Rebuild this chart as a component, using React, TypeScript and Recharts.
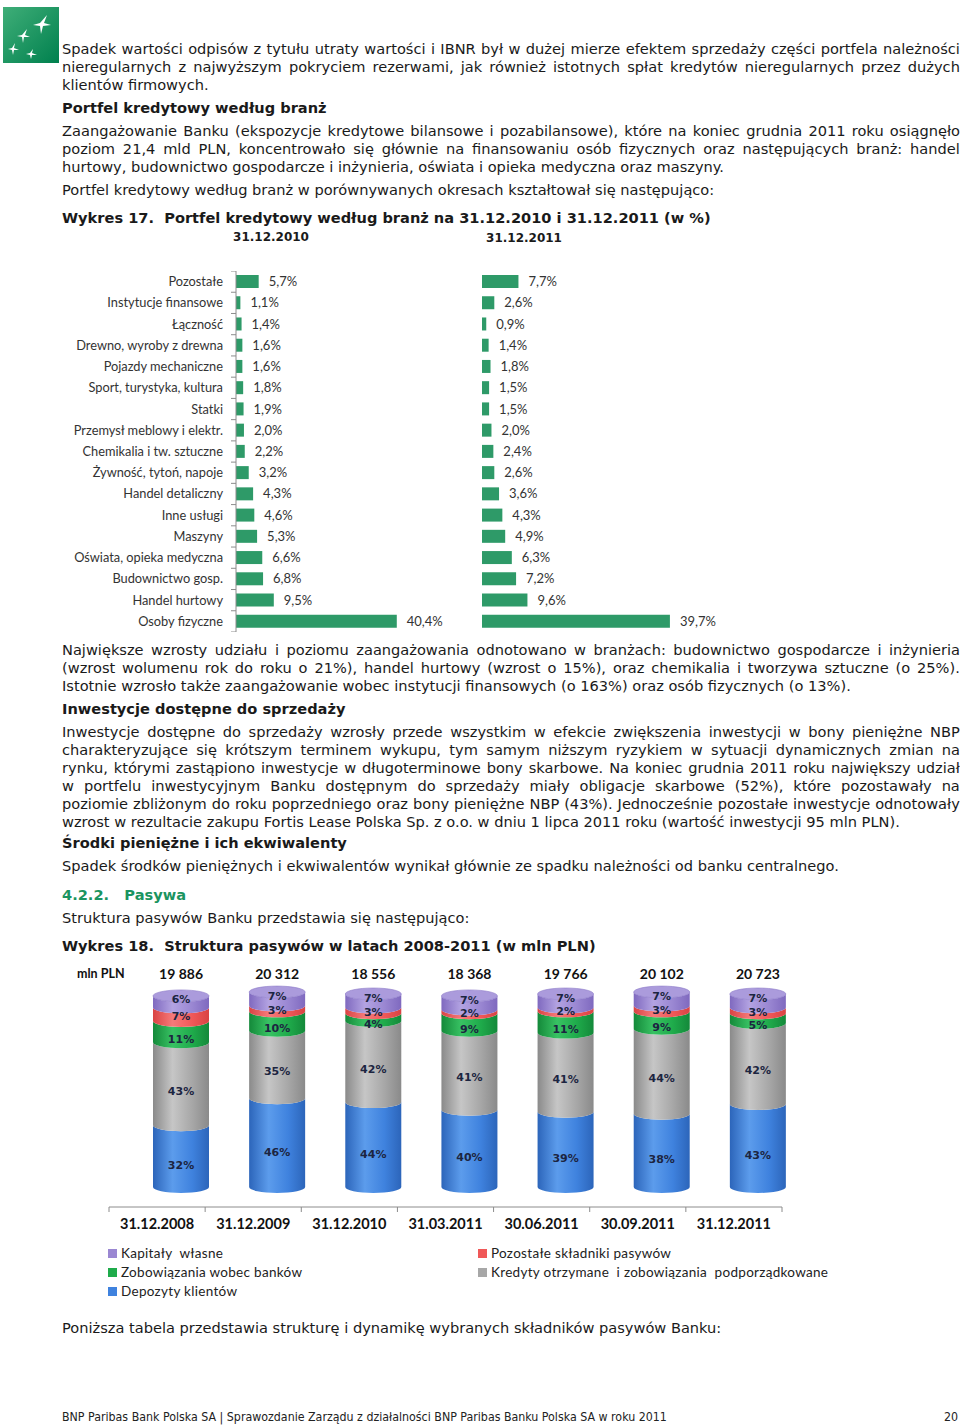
import React from "react";
import { Bar, BarChart, LabelList, XAxis, YAxis } from "recharts";

// Wykres 17 - portfel kredytowy wg branż (%)
const branze = [
  "Pozostałe",
  "Instytucje finansowe",
  "Łączność",
  "Drewno, wyroby z drewna",
  "Pojazdy mechaniczne",
  "Sport, turystyka,  kultura",
  "Statki",
  "Przemysł meblowy i elektr.",
  "Chemikalia i tw. sztuczne",
  "Żywność, tytoń,  napoje",
  "Handel detaliczny",
  "Inne usługi",
  "Maszyny",
  "Oświata, opieka medyczna",
  "Budownictwo gosp.",
  "Handel hurtowy",
  "Osoby fizyczne",
];
const udzial2010 = [5.7, 1.1, 1.4, 1.6, 1.6, 1.8, 1.9, 2.0, 2.2, 3.2, 4.3, 4.6, 5.3, 6.6, 6.8, 9.5, 40.4];
const udzial2011 = [7.7, 2.6, 0.9, 1.4, 1.8, 1.5, 1.5, 2.0, 2.4, 2.6, 3.6, 4.3, 4.9, 6.3, 7.2, 9.6, 39.7];

// Wykres 18 - struktura pasywów
const okresy = ["31.12.2008", "31.12.2009", "31.12.2010", "31.03.2011", "30.06.2011", "30.09.2011", "31.12.2011"];
const sumy = ["19 886", "20 312", "18 556", "18 368", "19 766", "20 102", "20 723"];
const depozyty = [32, 46, 44, 40, 39, 38, 43];
const kredyty = [43, 35, 42, 41, 41, 44, 42];
const zobowiazania = [11, 10, 4, 9, 11, 9, 5];
const pozostale = [7, 3, 3, 2, 2, 3, 3];
const kapitaly = [6, 7, 7, 7, 7, 7, 7];

const data17 = branze.map((name, i) => ({ name, v2010: udzial2010[i], v2011: udzial2011[i] }));
const data18 = okresy.map((okres, i) => ({
  okres,
  suma: sumy[i],
  depozyty: depozyty[i],
  kredyty: kredyty[i],
  zobowiazania: zobowiazania[i],
  pozostale: pozostale[i],
  kapitaly: kapitaly[i],
}));

const TXT = "'DejaVu Sans', Verdana, sans-serif";
const CH = "Lato, 'Open Sans', sans-serif";
const INK = "#1a1a1a";
const FS = 14.6;

const H17 = 361;
const ROW17 = H17 / branze.length;
const AXIS17 = 176;
const W18 = 673;
const CAT18 = W18 / okresy.length;
const DX = 24; // cylindry przesunięte względem środka kategorii
const RY = 6;

const pct = (v: any) => Number(v).toFixed(1).replace(".", ",") + "%";

const BranchTick = (props: any) => {
  const { x, y, payload, index } = props;
  const half = ROW17 / 2;
  return (
    <g>
      <line x1={AXIS17 - 5} x2={AXIS17} y1={y - half} y2={y - half} stroke="#8c8c8c" />
      {index === branze.length - 1 && (
        <line x1={AXIS17 - 5} x2={AXIS17} y1={y + half} y2={y + half} stroke="#8c8c8c" />
      )}
      <text x={x} y={y} dy="0.35em" textAnchor="end" fontSize={12.8} fontFamily={CH} fill="#333">
        {payload.value}
      </text>
    </g>
  );
};

const DateTick = (props: any) => {
  const { x, y, payload, index } = props;
  return (
    <g>
      <line x1={x - CAT18 / 2} x2={x - CAT18 / 2} y1={y} y2={y + 5} stroke="#8c8c8c" />
      {index === okresy.length - 1 && (
        <line x1={x + CAT18 / 2} x2={x + CAT18 / 2} y1={y} y2={y + 5} stroke="#8c8c8c" />
      )}
      <text x={x} y={y + 22} textAnchor="middle" fontSize={14.5} fontWeight="bold" fontFamily={CH} fill="#111">
        {payload.value}
      </text>
    </g>
  );
};

const SumTick = (props: any) => {
  const { x, y, index } = props;
  return (
    <text x={x + DX} y={y - 2} textAnchor="middle" fontSize={14} fontWeight="bold" fontFamily={CH} fill="#111">
      {sumy[index]}
    </text>
  );
};

const Segment = (props: any) => {
  const { x, y, width, height, grad, cap } = props;
  if (!height || height <= 0) return null;
  const X = x + DX;
  const rx = width / 2;
  const d = `M${X},${y - RY} L${X},${y + height - RY} A${rx},${RY} 0 0 0 ${X + width},${y + height - RY} L${X + width},${y - RY} A${rx},${RY} 0 0 1 ${X},${y - RY} Z`;
  return (
    <g>
      <path d={d} fill={`url(#${grad})`} />
      {cap && <ellipse cx={X + rx} cy={y - RY} rx={rx} ry={RY} fill="#ab9bdc" stroke="#8b78c8" strokeWidth={0.6} />}
    </g>
  );
};

const segLabel = (shift: number) => (p: any) => {
  const vb = p.viewBox ?? p;
  if (!p.value || !vb) return null;
  return (
    <text
      x={vb.x + vb.width / 2 + DX}
      y={vb.y + vb.height / 2 + 4 + shift}
      textAnchor="middle"
      fontSize={11}
      fontWeight="bold"
      fontFamily={TXT}
      fill="#1c2541"
    >
      {p.value}%
    </text>
  );
};

const grads = [
  { id: "gBlue", dark: "#2c65ba", light: "#5c9cec", mid: "#3f82de" },
  { id: "gGray", dark: "#8a8a8a", light: "#c6c6c6", mid: "#a7a7a7" },
  { id: "gGreen", dark: "#14893a", light: "#38c263", mid: "#1fab4b" },
  { id: "gRed", dark: "#d94343", light: "#f67a7a", mid: "#f05858" },
  { id: "gPurple", dark: "#7f69bf", light: "#b3a3e2", mid: "#9a87d2" },
];

const legend = [
  { name: "Kapitały  własne", color: "#9a87d2", x: 108, y: 1253 },
  { name: "Pozostałe składniki pasywów", color: "#f05858", x: 478, y: 1253 },
  { name: "Zobowiązania wobec banków", color: "#1fab4b", x: 108, y: 1272 },
  { name: "Kredyty otrzymane  i zobowiązania  podporządkowane", color: "#a7a7a7", x: 478, y: 1272 },
  { name: "Depozyty klientów", color: "#3f82de", x: 108, y: 1291 },
];

const Line = ({ text, top, justify, bold, color }: any) => {
  const base: React.CSSProperties = {
    position: "absolute",
    left: 62,
    width: 898,
    top,
    height: 18,
    lineHeight: "18px",
    fontSize: FS,
    fontWeight: bold ? "bold" : "normal",
    color: color ?? INK,
    whiteSpace: "pre",
  };
  if (!justify) return <div style={base}>{text}</div>;
  return (
    <div style={{ ...base, display: "flex", justifyContent: "space-between" }}>
      {text.split(" ").map((w: string, i: number) => (
        <span key={i}>{w}</span>
      ))}
    </div>
  );
};

const Para = ({ top, lines }: { top: number; lines: string[] }) => (
  <>
    {lines.map((l, i) => (
      <Line key={i} text={l} top={top + i * 18} justify={i < lines.length - 1} />
    ))}
  </>
);

const Logo = () => (
  <svg width={56} height={56} style={{ position: "absolute", left: 3, top: 7 }}>
    <defs>
      <linearGradient id="logoG" x1="0" y1="0" x2="1" y2="1">
        <stop offset="0" stopColor="#3fae78" />
        <stop offset="1" stopColor="#00804e" />
      </linearGradient>
    </defs>
    <rect width={56} height={56} fill="url(#logoG)" />
    <polygon points="44,8 41,16 48,18 40,19 38,27 37,19 30,18 37,16" fill="#fff" />
    <polygon points="24,22 22,28 27,30 21,30 20,36 19,30 14,29 19,28" fill="#fff" />
    <polygon points="12,36 11,41 16,43 11,43 10,48 9,43 5,42 9,41" fill="#fff" />
    <polygon points="30,42 29,46 34,48 29,48 28,52 27,48 23,47 27,46" fill="#fff" />
  </svg>
);

export default function App() {
  return (
    <div
      style={{
        position: "absolute",
        left: 0,
        top: 0,
        width: 960,
        height: 1426,
        background: "#fff",
        fontFamily: TXT,
        color: INK,
      }}
    >
      <Logo />
      <Para
        top={40}
        lines={[
          "Spadek wartości odpisów z tytułu utraty wartości i IBNR był w dużej mierze efektem sprzedaży części portfela należności",
          "nieregularnych z najwyższym pokryciem rezerwami, jak również istotnych spłat kredytów nieregularnych przez dużych",
          "klientów firmowych.",
        ]}
      />
      <Line top={99} bold text="Portfel kredytowy według branż" />
      <Para
        top={122}
        lines={[
          "Zaangażowanie Banku (ekspozycje kredytowe bilansowe i pozabilansowe), które na koniec grudnia 2011 roku osiągnęło",
          "poziom 21,4 mld PLN, koncentrowało się głównie na finansowaniu osób fizycznych oraz następujących branż: handel",
          "hurtowy, budownictwo gospodarcze i inżynieria, oświata i opieka medyczna oraz maszyny.",
        ]}
      />
      <Line top={181} text="Portfel kredytowy według branż w porównywanych okresach kształtował się następująco:" />
      <Line top={209} bold text="Wykres 17.  Portfel kredytowy według branż na 31.12.2010 i 31.12.2011 (w %)" />
      <div style={{ position: "absolute", left: 221, width: 100, top: 230, textAlign: "center", fontSize: 12, fontWeight: "bold" }}>
        31.12.2010
      </div>
      <div style={{ position: "absolute", left: 474, width: 100, top: 231, textAlign: "center", fontSize: 12, fontWeight: "bold" }}>
        31.12.2011
      </div>

      <div style={{ position: "absolute", left: 60, top: 271 }}>
        <BarChart width={450} height={H17} data={data17} layout="vertical" margin={{ top: 0, right: 75, bottom: 0, left: 0 }}>
          <XAxis type="number" domain={[0, 50]} allowDataOverflow hide />
          <YAxis
            type="category"
            dataKey="name"
            width={AXIS17}
            interval={0}
            tickSize={5}
            tickMargin={8}
            tickLine={false}
            axisLine={{ stroke: "#8c8c8c" }}
            tick={(p: any) => <BranchTick {...p} />}
          />
          <Bar dataKey="v2010" fill="#2e9a68" barSize={13} isAnimationActive={false}>
            <LabelList dataKey="v2010" position="right" offset={10} formatter={pct} fill="#333" fontSize={13} fontFamily={CH} />
          </Bar>
        </BarChart>
      </div>
      <div style={{ position: "absolute", left: 482, top: 271 }}>
        <BarChart width={290} height={H17} data={data17} layout="vertical" margin={{ top: 0, right: 77, bottom: 0, left: 0 }}>
          <XAxis type="number" domain={[0, 45]} allowDataOverflow hide />
          <YAxis type="category" dataKey="name" hide />
          <Bar dataKey="v2011" fill="#2e9a68" barSize={13} isAnimationActive={false}>
            <LabelList dataKey="v2011" position="right" offset={10} formatter={pct} fill="#333" fontSize={13} fontFamily={CH} />
          </Bar>
        </BarChart>
      </div>

      <Para
        top={641}
        lines={[
          "Największe wzrosty udziału i poziomu zaangażowania odnotowano w branżach: budownictwo gospodarcze i inżynieria",
          "(wzrost wolumenu rok do roku o 21%), handel hurtowy (wzrost o 15%), oraz chemikalia i tworzywa sztuczne (o 25%).",
          "Istotnie wzrosło także zaangażowanie wobec instytucji finansowych (o 163%) oraz osób fizycznych (o 13%).",
        ]}
      />
      <Line top={700} bold text="Inwestycje dostępne do sprzedaży" />
      <Para
        top={723}
        lines={[
          "Inwestycje dostępne do sprzedaży wzrosły przede wszystkim w efekcie zwiększenia inwestycji w bony pieniężne NBP",
          "charakteryzujące się krótszym terminem wykupu, tym samym niższym ryzykiem w sytuacji dynamicznych zmian na",
          "rynku, którymi zastąpiono inwestycje w długoterminowe bony skarbowe. Na koniec grudnia 2011 roku największy udział",
          "w portfelu inwestycyjnym Banku dostępnym do sprzedaży miały obligacje skarbowe (52%), które pozostawały na",
          "poziomie zbliżonym do roku poprzedniego oraz bony pieniężne NBP (43%). Jednocześnie pozostałe inwestycje odnotowały",
          "wzrost w rezultacie zakupu Fortis Lease Polska Sp. z o.o. w dniu 1 lipca 2011 roku (wartość inwestycji 95 mln PLN).",
        ]}
      />
      <Line top={834} bold text="Środki pieniężne i ich ekwiwalenty" />
      <Line top={857} text="Spadek środków pieniężnych i ekwiwalentów wynikał głównie ze spadku należności od banku centralnego." />
      <Line top={886} bold color="#1b9460" text={"4.2.2.   Pasywa"} />
      <Line top={909} text="Struktura pasywów Banku przedstawia się następująco:" />
      <Line top={937} bold text="Wykres 18.  Struktura pasywów w latach 2008-2011 (w mln PLN)" />

      <div style={{ position: "absolute", left: 77, top: 966, fontFamily: CH, fontWeight: "bold", fontSize: 12.5, color: "#111" }}>
        mln PLN
      </div>
      <div style={{ position: "absolute", left: 60, top: 950 }}>
        <BarChart width={760} height={287} data={data18} margin={{ top: 0, right: 38, bottom: 0, left: 49 }} barSize={56}>
          <defs>
            {grads.map((g) => (
              <linearGradient key={g.id} id={g.id} x1="0" y1="0" x2="1" y2="0">
                <stop offset="0" stopColor={g.dark} />
                <stop offset="0.35" stopColor={g.light} />
                <stop offset="0.7" stopColor={g.mid} />
                <stop offset="1" stopColor={g.dark} />
              </linearGradient>
            ))}
          </defs>
          <XAxis
            dataKey="okres"
            interval={0}
            height={30}
            tickSize={0}
            tickMargin={0}
            tickLine={false}
            axisLine={{ stroke: "#8c8c8c" }}
            tick={(p: any) => <DateTick {...p} />}
          />
          <XAxis
            xAxisId="top"
            orientation="top"
            dataKey="okres"
            interval={0}
            height={30.7}
            tickSize={0}
            tickMargin={0}
            tickLine={false}
            axisLine={false}
            tick={(p: any) => <SumTick {...p} />}
          />
          <YAxis hide domain={[-7.25, 110]} allowDataOverflow />
          <Bar dataKey="depozyty" stackId="p" isAnimationActive={false} shape={(p: any) => <Segment {...p} grad="gBlue" />}>
            <LabelList dataKey="depozyty" content={segLabel(3)} />
          </Bar>
          <Bar dataKey="kredyty" stackId="p" isAnimationActive={false} shape={(p: any) => <Segment {...p} grad="gGray" />}>
            <LabelList dataKey="kredyty" content={segLabel(1)} />
          </Bar>
          <Bar dataKey="zobowiazania" stackId="p" isAnimationActive={false} shape={(p: any) => <Segment {...p} grad="gGreen" />}>
            <LabelList dataKey="zobowiazania" content={segLabel(1)} />
          </Bar>
          <Bar dataKey="pozostale" stackId="p" isAnimationActive={false} shape={(p: any) => <Segment {...p} grad="gRed" />}>
            <LabelList dataKey="pozostale" content={segLabel(-4)} />
          </Bar>
          <Bar dataKey="kapitaly" stackId="p" isAnimationActive={false} shape={(p: any) => <Segment {...p} grad="gPurple" cap />}>
            <LabelList dataKey="kapitaly" content={segLabel(-9)} />
          </Bar>
        </BarChart>
      </div>

      {legend.map((l) => (
        <div
          key={l.name}
          style={{
            position: "absolute",
            left: l.x,
            top: l.y - 9,
            height: 18,
            display: "flex",
            alignItems: "center",
            fontFamily: CH,
            fontSize: 13.5,
            letterSpacing: 0.3,
            color: "#222",
            whiteSpace: "pre",
          }}
        >
          <span style={{ display: "inline-block", width: 9, height: 9, background: l.color, marginRight: 4 }} />
          {l.name}
        </div>
      ))}

      <Line top={1319} text="Poniższa tabela przedstawia strukturę i dynamikę wybranych składników pasywów Banku:" />

      <div style={{ position: "absolute", left: 62, top: 1410, fontFamily: "'DejaVu Sans Condensed', 'DejaVu Sans', sans-serif", fontSize: 12.3, color: "#222", whiteSpace: "pre" }}>
        BNP Paribas Bank Polska SA | Sprawozdanie Zarządu z działalności BNP Paribas Banku Polska SA w roku 2011
      </div>
      <div style={{ position: "absolute", left: 944, top: 1410, fontFamily: "'DejaVu Sans Condensed', 'DejaVu Sans', sans-serif", fontSize: 12.3, color: "#222" }}>
        20
      </div>
    </div>
  );
}
